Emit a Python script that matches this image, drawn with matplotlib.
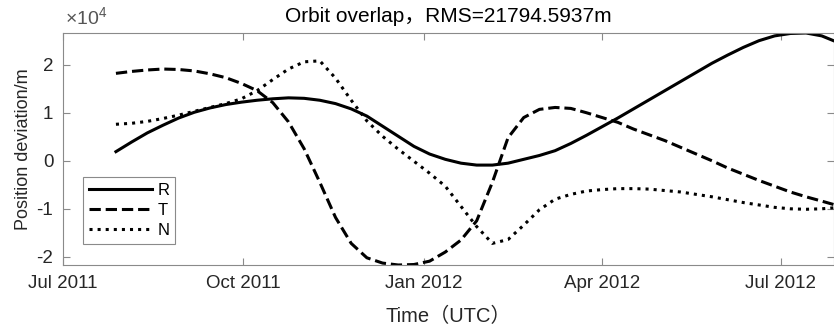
import numpy as np
import matplotlib
matplotlib.use("Agg")
import matplotlib.pyplot as plt
import matplotlib.dates as mdates
from matplotlib.ticker import FuncFormatter, MultipleLocator

plt.rcParams["font.family"] = ["Liberation Sans", "Noto Sans CJK SC"]
plt.rcParams["mathtext.fontset"] = "custom"
plt.rcParams["mathtext.rm"] = "Liberation Sans"
plt.rcParams["axes.unicode_minus"] = False

# sampling epochs (8-day steps)
dates = ["2011-07-28", "2011-08-05", "2011-08-13", "2011-08-21", "2011-08-29",
         "2011-09-06", "2011-09-14", "2011-09-22", "2011-09-30", "2011-10-08",
         "2011-10-16", "2011-10-24", "2011-11-01", "2011-11-09", "2011-11-17",
         "2011-11-25", "2011-12-03", "2011-12-11", "2011-12-19", "2011-12-27",
         "2012-01-04", "2012-01-12", "2012-01-20", "2012-01-28", "2012-02-05",
         "2012-02-13", "2012-02-21", "2012-02-29", "2012-03-08", "2012-03-16",
         "2012-03-24", "2012-04-01", "2012-04-09", "2012-04-17", "2012-04-25",
         "2012-05-03", "2012-05-11", "2012-05-19", "2012-05-27", "2012-06-04",
         "2012-06-12", "2012-06-20", "2012-06-28", "2012-07-06", "2012-07-14",
         "2012-07-22", "2012-07-28"]

# position deviations in RTN frame (metres)
r_dev = [1900, 3900, 5800, 7400, 8900, 10100, 11000, 11700, 12200, 12600,
         12900, 13100, 13000, 12600, 11900, 10800, 9300, 7200, 5100, 3000,
         1400, 300, -500, -900, -900, -500, 300, 1100, 2100, 3600,
         5300, 7100, 8900, 10800, 12700, 14600, 16500, 18400, 20300, 22000,
         23600, 25000, 26000, 26500, 26600, 26000, 25000]
t_dev = [18200, 18600, 18900, 19100, 19000, 18700, 18100, 17300, 16100, 14600,
         12100, 8100, 2500, -4500, -11800, -17200, -20200, -21300, -21700, -21600,
         -20900, -19000, -16500, -12500, -4500, 4800, 9000, 10700, 11100, 10900,
         10000, 9000, 8000, 6600, 5400, 4200, 2800, 1400, 0, -1500,
         -2800, -4100, -5300, -6500, -7500, -8400, -9100]
n_dev = [7600, 7800, 8200, 8800, 9500, 10300, 11100, 11900, 12900, 14600,
         16900, 19100, 20600, 20800, 17200, 12600, 8300, 5100, 2400, -100,
         -2600, -5300, -9500, -13700, -17200, -16400, -13400, -10200, -8000, -7000,
         -6300, -6000, -5800, -5800, -5900, -6200, -6500, -7000, -7500, -8100,
         -8700, -9200, -9700, -10000, -10100, -10000, -9800]

rms = 21794.5937

t = np.array(dates, dtype="datetime64[D]")

fig = plt.figure(figsize=(8.34, 3.26), dpi=100)
ax = fig.add_axes([63 / 834, 61 / 326, 770.5 / 834, 232 / 326])

ax.plot(t, r_dev, "-", color="black", lw=2.2, label="R")
ax.plot(t, t_dev, "--", color="black", lw=2.2, label="T")
ax.plot(t, n_dev, ":", color="black", lw=2.2, label="N")

allv = r_dev + t_dev + n_dev
ax.set_ylim(min(allv), max(allv))
ax.set_xlim(np.datetime64("2011-07-01"), t[-1])

ax.xaxis.set_major_locator(mdates.MonthLocator(bymonth=[1, 4, 7, 10]))
ax.xaxis.set_major_formatter(mdates.DateFormatter("%b %Y"))
ax.yaxis.set_major_locator(MultipleLocator(10000))
ax.yaxis.set_major_formatter(FuncFormatter(lambda v, p: "%g" % (v / 1e4)))

grey = "#262626"
for s in ax.spines.values():
    s.set_color("#8a8a8a")
    s.set_linewidth(0.8)
ax.tick_params(direction="in", length=5, width=0.8, color="#8a8a8a",
               labelcolor=grey, labelsize=13.5, top=True, right=True)
ax.tick_params(axis="x", pad=7)
ax.tick_params(axis="y", pad=7)

# exponent shown above the y axis
ax.text(0.002, 1.035, "×10$^{4}$", transform=ax.transAxes, fontsize=14,
        color="#555555", ha="left", va="baseline")

ax.set_title("Orbit overlap，RMS=%.4fm" % rms, fontsize=15, color="black", pad=8)
ax.set_xlabel("Time（UTC）", fontsize=14.5, color=grey, labelpad=11)
ax.set_ylabel("Position deviation/m", fontsize=13, color=grey, labelpad=3)

leg = ax.legend(loc="lower left", bbox_to_anchor=(0.026, 0.09), fontsize=12,
                handlelength=3.8, handletextpad=0.3, labelspacing=0.3,
                borderpad=0.35, borderaxespad=0, fancybox=False, framealpha=1)
leg.get_frame().set_edgecolor("#8a8a8a")
leg.get_frame().set_linewidth(0.8)

fig.savefig("out.png", dpi=100)
